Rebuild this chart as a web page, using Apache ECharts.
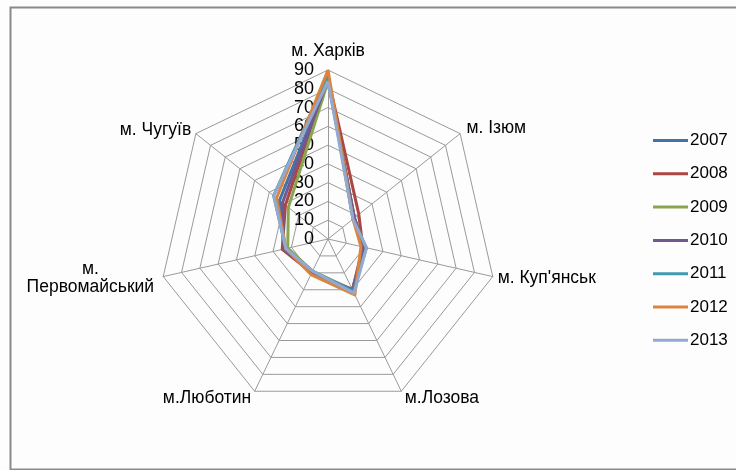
<!DOCTYPE html>
<html>
<head>
<meta charset="utf-8">
<script src="https://cdn.jsdelivr.net/npm/echarts@6/dist/echarts.min.js"></script>
<style>html,body{margin:0;padding:0;background:#fff;}#c{width:736px;height:470px;}</style>
</head>
<body>
<div id="c"></div>
<script>
var cities = ['м. Харків', 'м. Ізюм', "м. Куп'янськ", 'м.Лозова', 'м.Люботин', 'м.\nПервомайський', 'м. Чугуїв'];
var years = ['2007', '2008', '2009', '2010', '2011', '2012', '2013'];
var v2007 = [85, 18, 20, 30, 20, 24, 33];
var v2008 = [86, 21, 19, 30, 20, 25, 29];
var v2009 = [84, 18, 20, 30, 19, 22, 27];
var v2010 = [85, 18, 20, 30, 20, 24, 31];
var v2011 = [87, 17, 21, 31, 19, 23, 37];
var v2012 = [90, 17, 18, 33, 21, 23, 35];
var v2013 = [84, 17, 21, 32, 19, 23, 37];
var axisMax = 90;
var axisStep = 10;

var values = [v2007, v2008, v2009, v2010, v2011, v2012, v2013];
var colors = ['#4572A7', '#AA4643', '#89A54E', '#71588F', '#4198AF', '#DB843D', '#93A9CF'];
var font = 'Liberation Sans';

// ECharts radar runs counter-clockwise; the reference runs clockwise from the top.
var order = [0, 6, 5, 4, 3, 2, 1];

var indicatorExtra = [
  {nameGap: 10, axisLabel: {show: true}},
  {nameGap: 8},
  {nameGap: 5},
  {nameGap: 8},
  {nameGap: 8},
  {nameGap: 5, nameTextStyle: {align: 'center', padding: [0, 136, 0, 0]}},
  {nameGap: 6}
];
var indicator = order.map(function (i) {
  var o = {name: cities[i], max: axisMax, min: 0};
  for (var k in indicatorExtra[i]) o[k] = indicatorExtra[i][k];
  return o;
});

var chart = echarts.init(document.getElementById('c'), null, {renderer: 'canvas'});
chart.setOption({
  animation: false,
  backgroundColor: '#fdfdfd',
  color: colors,
  textStyle: {fontFamily: font},
  graphic: [{
    type: 'rect', left: 8, top: 5, z: -1, silent: true,
    shape: {width: 740, height: 462},
    style: {fill: 'none', stroke: '#8a8a8a', lineWidth: 2}
  }],
  legend: {
    orient: 'vertical', left: 653, top: 132, padding: 0,
    icon: 'rect', itemWidth: 35, itemHeight: 3, itemGap: 16.3,
    textStyle: {fontFamily: font, fontSize: 17, color: '#000', padding: [0, 0, 0, -3]},
    data: years
  },
  radar: {
    center: [328, 239],
    radius: 169,
    shape: 'polygon',
    splitNumber: axisMax / axisStep,
    indicator: indicator,
    axisName: {color: '#000', fontFamily: font, fontSize: 17.5},
    axisLine: {show: true, lineStyle: {color: '#9a9a9a', width: 1}},
    splitLine: {lineStyle: {color: '#9a9a9a', width: 1}},
    splitArea: {show: false},
    axisTick: {show: false},
    axisLabel: {show: false, color: '#000', fontFamily: font, fontSize: 18, margin: 14}
  },
  series: [{
    type: 'radar',
    symbol: 'none',
    lineStyle: {width: 3},
    data: years.map(function (y, i) {
      return {
        name: y,
        value: order.map(function (j) { return values[i][j]; }),
        lineStyle: {color: colors[i], width: 3},
        itemStyle: {color: colors[i]}
      };
    })
  }]
});
</script>
</body>
</html>
